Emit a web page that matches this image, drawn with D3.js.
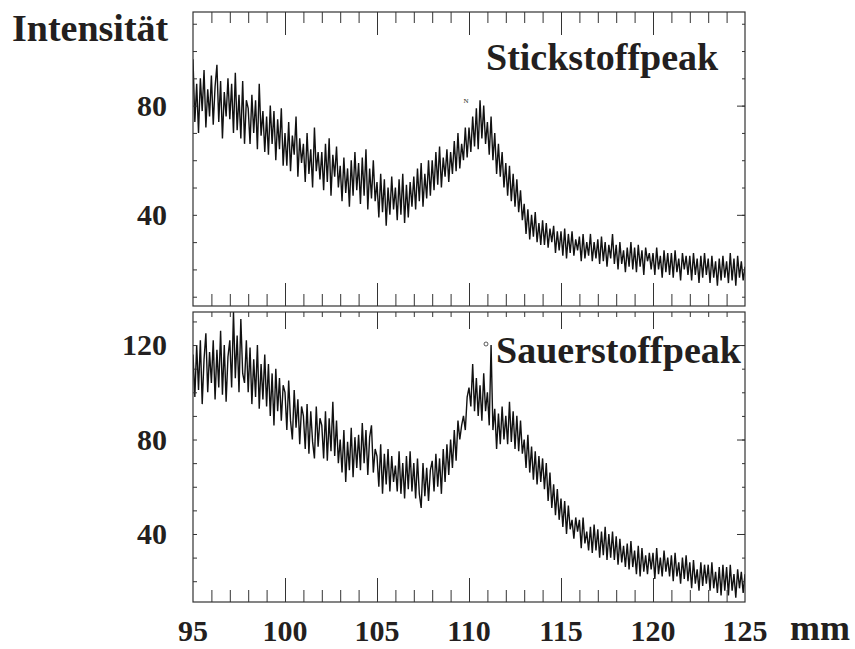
<!DOCTYPE html>
<html>
<head>
<meta charset="utf-8">
<script src="https://cdn.jsdelivr.net/npm/d3@7"></script>
<style>
  body { margin: 0; background: #fff; }
  text { font-family: "Liberation Serif", "Times New Roman", serif; font-weight: bold; fill: #231f20; }
</style>
</head>
<body>
<svg id="chart" width="855" height="649"></svg>
<script>
// x positions: one reading every 0.1 mm from 95 to 125
var mmStart = 95, mmStep = 0.1;

// Stickstoffpeak (top panel), one row per mm
var nitrogen = [
  97, 74, 88, 70, 90, 78, 93, 72, 86, 76,
  91, 73, 87, 95, 74, 89, 68, 85, 76, 90,
  75, 88, 70, 92, 71, 84, 68, 89, 66, 82,
  79, 66, 84, 70, 82, 64, 88, 69, 78, 63,
  76, 62, 80, 66, 78, 60, 75, 64, 79, 58,
  70, 58, 74, 56, 69, 62, 76, 54, 68, 59,
  66, 52, 70, 55, 64, 50, 72, 56, 63, 53,
  63, 49, 66, 52, 68, 47, 62, 54, 65, 50,
  58, 45, 61, 48, 57, 43, 60, 47, 63, 49,
  59, 44, 61, 47, 64, 42, 57, 46, 60, 45,
  52, 39, 55, 41, 53, 36, 50, 40, 54, 42,
  50, 38, 53, 40, 55, 37, 51, 39, 52, 43,
  54, 42, 57, 45, 59, 43, 55, 46, 60, 47,
  60, 49, 63, 51, 65, 50, 61, 54, 64, 52,
  63, 55, 67, 56, 70, 57, 66, 60, 72, 61,
  72, 63, 76, 65, 79, 64, 82, 68, 80, 66,
  74, 62, 76, 60, 70, 55, 66, 54, 63, 50,
  59, 47, 58, 45, 55, 43, 53, 41, 49, 38,
  44, 33, 42, 31, 40, 32, 41, 30, 37, 29,
  38, 29, 37, 28, 35, 30, 36, 26, 34, 27,
  34, 25, 35, 24, 33, 26, 34, 25, 31, 27,
  32, 23, 33, 24, 30, 25, 33, 23, 30, 24,
  31, 22, 32, 23, 30, 21, 29, 24, 33, 22,
  29, 20, 30, 22, 27, 19, 28, 21, 30, 20,
  28, 19, 29, 21, 27, 18, 28, 23, 26, 20,
  26, 18, 28, 20, 25, 17, 27, 19, 26, 18,
  26, 17, 27, 19, 24, 16, 26, 20, 25, 18,
  25, 16, 26, 18, 24, 15, 25, 17, 26, 18,
  24, 15, 25, 17, 23, 14, 24, 16, 25, 17,
  23, 15, 26, 16, 24, 14, 25, 17, 23, 16,
  21
];

// Sauerstoffpeak (bottom panel), one row per mm
var oxygen = [
  116, 98, 120, 101, 122, 95, 114, 125, 100, 117,
  104, 122, 97, 118, 102, 126, 99, 120, 96, 115,
  122, 102, 134, 106, 124, 100, 131, 108, 104, 122,
  100, 119, 95, 114, 98, 120, 93, 112, 97, 116,
  94, 112, 90, 108, 86, 110, 92, 106, 88, 103,
  100, 84, 105, 88, 80, 101, 85, 97, 78, 94,
  90, 76, 95, 74, 92, 79, 72, 94, 77, 89,
  86, 72, 92, 71, 89, 75, 96, 73, 88, 70,
  80, 66, 84, 62, 79, 67, 85, 64, 81, 68,
  82, 67, 87, 70, 84, 65, 81, 86, 66, 76,
  73, 60, 78, 57, 74, 61, 76, 58, 73, 62,
  69, 58, 75, 57, 70, 55, 73, 59, 75, 58,
  70, 55, 72, 57, 51, 70, 56, 68, 54, 67,
  71, 58, 74, 60, 72, 57, 76, 62, 78, 65,
  80, 68, 84, 71, 88, 80, 86, 90, 84, 98,
  102, 94, 112, 92, 106, 90, 103, 88, 108, 92,
  100, 86, 120, 84, 93, 76, 91, 78, 94, 80,
  90, 78, 96, 79, 92, 76, 90, 75, 88, 74,
  80, 68, 82, 66, 77, 63, 75, 61, 73, 62,
  72, 59, 70, 54, 66, 51, 61, 48, 59, 46,
  55, 43, 54, 40, 52, 42, 46, 38, 47, 41,
  46, 34, 47, 36, 41, 33, 43, 32, 44, 33,
  42, 30, 41, 31, 43, 29, 40, 30, 41, 29,
  39, 27, 38, 28, 35, 26, 36, 25, 37, 26,
  33, 23, 35, 22, 34, 24, 31, 23, 32, 25,
  32, 21, 34, 23, 30, 22, 33, 24, 30, 22,
  31, 20, 32, 22, 28, 19, 30, 21, 31, 20,
  28, 17, 29, 19, 25, 16, 28, 18, 27, 19,
  27, 16, 28, 17, 24, 15, 26, 14, 27, 16,
  26, 14, 27, 16, 23, 13, 25, 17, 24, 15,
  23
];

var xTickLabels = [95, 100, 105, 110, 115, 120, 125];
var topLabels = [80, 40];
var bottomLabels = [120, 80, 40];

var svg = d3.select("#chart");

var x = d3.scaleLinear().domain([95, 125]).range([193, 745]);

var panels = [
  { name: "n", data: nitrogen, y: d3.scaleLinear().domain([6.6, 114.3]).range([306, 12]),
    labels: topLabels, ticks: d3.range(10, 111, 10), title: "Stickstoffpeak",
    titleX: 486, titleY: 70, topMinor: 11, topMajor: 23, botMinor: 12, botMajor: 23 },
  { name: "o", data: oxygen, y: d3.scaleLinear().domain([11.2, 134]).range([602, 312]),
    labels: bottomLabels, ticks: d3.range(20, 131, 10), title: "Sauerstoffpeak",
    titleX: 496, titleY: 363, topMinor: 5, topMajor: 17, botMinor: 12, botMajor: 24 }
];

var minorX = d3.range(96, 125, 1).filter(function(d) { return d % 5 != 0; });
var majorX = d3.range(100, 125, 5);

panels.forEach(function(p) {
  var y = p.y;
  var y0 = y.range()[0], y1 = y.range()[1];

  svg.append("clipPath").attr("id", "clip-" + p.name)
    .append("rect").attr("x", 193).attr("y", y1).attr("width", 552).attr("height", y0 - y1);

  // the trace
  var line = d3.line()
    .x(function(d, i) { return x(mmStart + i * mmStep); })
    .y(function(d) { return y(d); });

  svg.append("path")
    .datum(p.data)
    .attr("clip-path", "url(#clip-" + p.name + ")")
    .attr("fill", "none")
    .attr("stroke", "#111")
    .attr("stroke-width", 1.4)
    .attr("d", line);

  // inward x ticks on top and bottom edges
  function xTicks(axisFn, pos, values, size) {
    var g = svg.append("g").attr("transform", "translate(0," + pos + ")")
      .call(axisFn(x).tickValues(values).tickSize(size).tickFormat(""));
    g.select(".domain").remove();
    g.selectAll("line").attr("stroke", "#333");
  }
  xTicks(d3.axisBottom, y1, minorX, p.topMinor);
  xTicks(d3.axisBottom, y1, majorX, p.topMajor);
  xTicks(d3.axisTop, y0, minorX, p.botMinor);
  xTicks(d3.axisTop, y0, majorX, p.botMajor);

  // y ticks left (inward, short) and right (inward, longer at labelled values)
  var gl = svg.append("g").attr("transform", "translate(193,0)")
    .call(d3.axisRight(y).tickValues(p.ticks).tickSize(4).tickFormat(""));
  gl.select(".domain").remove();
  gl.selectAll("line").attr("stroke", "#333");

  var gr = svg.append("g").attr("transform", "translate(745,0)")
    .call(d3.axisLeft(y).tickValues(p.ticks).tickSize(3).tickFormat(""));
  gr.select(".domain").remove();
  gr.selectAll("line").attr("stroke", "#333");
  var grMajor = svg.append("g").attr("transform", "translate(745,0)")
    .call(d3.axisLeft(y).tickValues(p.labels).tickSize(8).tickFormat(""));
  grMajor.select(".domain").remove();
  grMajor.selectAll("line").attr("stroke", "#333");

  // frame
  svg.append("rect")
    .attr("x", 193).attr("y", y1).attr("width", 552).attr("height", y0 - y1)
    .attr("fill", "none").attr("stroke", "#333").attr("stroke-width", 1.2);

  // y labels
  svg.selectAll(null).data(p.labels).enter().append("text")
    .attr("x", 167)
    .attr("y", function(d) { return y(d) + 10; })
    .attr("text-anchor", "end")
    .style("font-size", "30px")
    .text(function(d) { return d; });

  svg.append("text")
    .attr("x", p.titleX).attr("y", p.titleY)
    .style("font-size", "38px")
    .text(p.title);
});

// tiny peak markers
svg.append("text").attr("x", 466).attr("y", 103).attr("text-anchor", "middle")
  .style("font-size", "7px").style("font-weight", "normal").text("N");
svg.append("circle").attr("cx", 486).attr("cy", 344).attr("r", 2)
  .attr("fill", "none").attr("stroke", "#333").attr("stroke-width", 0.8);

// x labels
svg.selectAll(null).data(xTickLabels).enter().append("text")
  .attr("x", function(d) { return x(d); })
  .attr("y", 641)
  .attr("text-anchor", "middle")
  .style("font-size", "30px")
  .text(function(d) { return d; });

svg.append("text").attr("x", 790).attr("y", 640).style("font-size", "36px").text("mm");
svg.append("text").attr("x", 12).attr("y", 41).style("font-size", "38px").text("Intensität");
</script>
</body>
</html>
